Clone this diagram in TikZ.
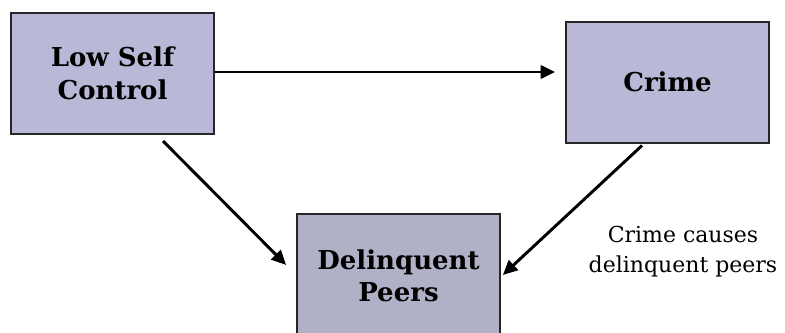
\documentclass[tikz,border=0pt]{standalone}
\usepackage{fontspec}
\setmainfont{DejaVu Serif}
\usetikzlibrary{arrows.meta,calc}
\definecolor{boxfill}{RGB}{185,185,215}
\definecolor{boxfilltwo}{RGB}{176,176,198}
\begin{document}
\begin{tikzpicture}[x=0.75pt,y=-0.75pt,
  box/.style={draw=black!85,line width=1.5pt,fill=boxfill,minimum width=152pt,minimum height=90.75pt,inner sep=0pt,align=center,font=\fontsize{19.5}{24.5}\selectfont\bfseries},
  conn/.style={line width=2.2pt,-{Triangle[length=11pt,width=10pt]}},
  note/.style={align=center,font=\fontsize{16.5}{22.5}\selectfont}]
\useasboundingbox (0,0) rectangle (785,332);
\clip (0,0) rectangle (785,332);
\node[box] (lsc) at (112.5,73.5) {Low Self\\Control};
\node[box] (crime) at (667.5,82) {Crime};
\node[box,fill=boxfilltwo,minimum height=98.25pt] (dp) at (398.5,279.5) {Delinquent\\Peers\rule[-6pt]{0pt}{0pt}};
\node[note] (cap) at (683,252) {Crime causes\\delinquent peers};
\coordinate (a1e) at ($(crime.west)+(-10,-10)$);
\coordinate (a1s) at (lsc.east |- a1e);
\coordinate (a2s) at ($(lsc.south)+(50.5,6)$);
\coordinate (a2e) at ($(dp.west)+(-10,-14.5)$);
\coordinate (a3s) at ($(crime.south)+(-25.5,2)$);
\coordinate (a3e) at ($(dp.east)+(2,-4.5)$);
\draw[conn] (a1s) -- (a1e);
\draw[conn] (a2s) -- (a2e);
\draw[conn] (a3s) -- (a3e);
\end{tikzpicture}
\end{document}
